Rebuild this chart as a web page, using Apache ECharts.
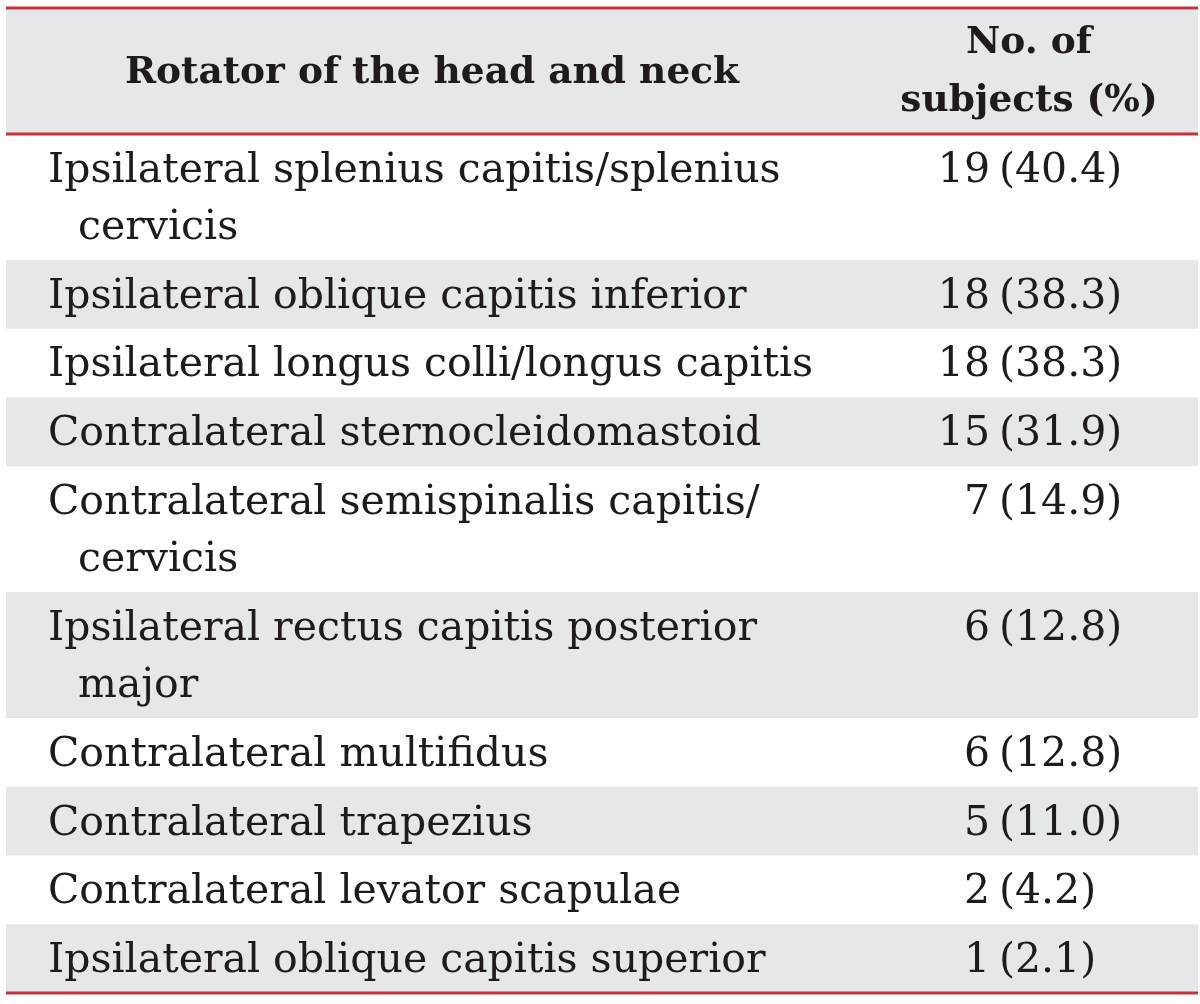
<!DOCTYPE html>
<html><head><meta charset="utf-8">
<script src="https://cdn.jsdelivr.net/npm/echarts@6/dist/echarts.min.js"></script>
<style>html,body{margin:0;padding:0;background:#fff}#c{width:1200px;height:1004px}</style>
</head><body><div id="c"></div>
<script>
// ---- data ----
const headerLeft = "Rotator of the head and neck";
const headerRight = ["No. of", "subjects (%)"];
const muscleLines = [
  ["Ipsilateral splenius capitis/splenius", "cervicis"],
  ["Ipsilateral oblique capitis inferior"],
  ["Ipsilateral longus colli/longus capitis"],
  ["Contralateral sternocleidomastoid"],
  ["Contralateral semispinalis capitis/", "cervicis"],
  ["Ipsilateral rectus capitis posterior", "major"],
  ["Contralateral multifidus"],
  ["Contralateral trapezius"],
  ["Contralateral levator scapulae"],
  ["Ipsilateral oblique capitis superior"]
];
const counts = [19, 18, 18, 15, 7, 6, 6, 5, 2, 1];
const percents = [40.4, 38.3, 38.3, 31.9, 14.9, 12.8, 12.8, 11.0, 4.2, 2.1];

// ---- layout (units ~ px) ----
const PAD = 11.5, LINE = 57;
const blocks = [{header: true, lines: 2}].concat(muscleLines.map((l, i) => ({header: false, lines: l.length, idx: i})));
let acc = 0;
blocks.forEach(b => { b.top = acc; b.h = PAD + LINE * b.lines; acc += b.h; b.bottom = acc; });
const TOTAL = acc;

const FONT = '"DejaVu Serif", serif';
const INK = '#1f1b1c';
const GRAY = '#e6e7e8';
const RED = '#c5333a';

function renderItem(params, api) {
  const b = blocks[api.value(0)];
  const cs = params.coordSys;
  const p0 = api.coord([0, b.top]);
  const p1 = api.coord([1, b.bottom]);
  const x0 = cs.x, w = cs.width;
  const y0 = p0[1], y1 = p1[1];
  const sy = (y1 - y0) / b.h;
  const children = [];
  const shaded = b.header || (b.idx % 2 === 1);
  if (shaded) children.push({type: 'rect', shape: {x: x0, y: y0, width: w, height: y1 - y0}, style: {fill: GRAY}});
  if (b.header) {
    children.push({type: 'text', style: {text: headerLeft, x: x0 + 426, y: (y0 + y1) / 2 + 2, align: 'center', verticalAlign: 'middle', font: 'bold 37.5px ' + FONT, fill: INK}});
    headerRight.forEach((t, k) => children.push({type: 'text', style: {text: t, x: x0 + 1023, y: y0 + (35 + k * 58) * sy, align: 'center', verticalAlign: 'middle', font: 'bold 37.5px ' + FONT, fill: INK}}));
    children.push({type: 'line', shape: {x1: x0, y1: y0, x2: x0 + w, y2: y0}, style: {stroke: RED, lineWidth: 3}});
    children.push({type: 'line', shape: {x1: x0, y1: y1, x2: x0 + w, y2: y1}, style: {stroke: RED, lineWidth: 3}});
  } else {
    const lines = muscleLines[b.idx];
    lines.forEach((t, k) => children.push({type: 'text', style: {text: t, x: x0 + (k === 0 ? 42 : 72), y: y0 + (37 + k * LINE) * sy, align: 'left', verticalAlign: 'middle', font: '41px ' + FONT, fill: INK}}));
    const cy = y0 + 37 * sy;
    children.push({type: 'text', style: {text: String(counts[b.idx]), x: x0 + 984, y: cy, align: 'right', verticalAlign: 'middle', font: '41px ' + FONT, fill: INK}});
    children.push({type: 'text', style: {text: '(' + percents[b.idx].toFixed(1) + ')', x: x0 + 993, y: cy, align: 'left', verticalAlign: 'middle', font: '41px ' + FONT, fill: INK}});
    if (b.idx === muscleLines.length - 1) {
      children.push({type: 'line', shape: {x1: x0, y1: y1, x2: x0 + w, y2: y1}, style: {stroke: RED, lineWidth: 3}});
    }
  }
  return {type: 'group', children: children};
}

const chart = echarts.init(document.getElementById('c'), null, {renderer: 'canvas'});
chart.setOption({
  animation: false,
  grid: {left: 6, right: 2, top: 8, bottom: 11},
  xAxis: {type: 'value', min: 0, max: 1, show: false},
  yAxis: {type: 'value', min: 0, max: TOTAL, inverse: true, show: false},
  series: [{
    type: 'custom',
    renderItem: renderItem,
    data: blocks.map((b, i) => [i]),
    encode: {x: -1, y: -1},
    clip: false
  }]
});
</script></body></html>
